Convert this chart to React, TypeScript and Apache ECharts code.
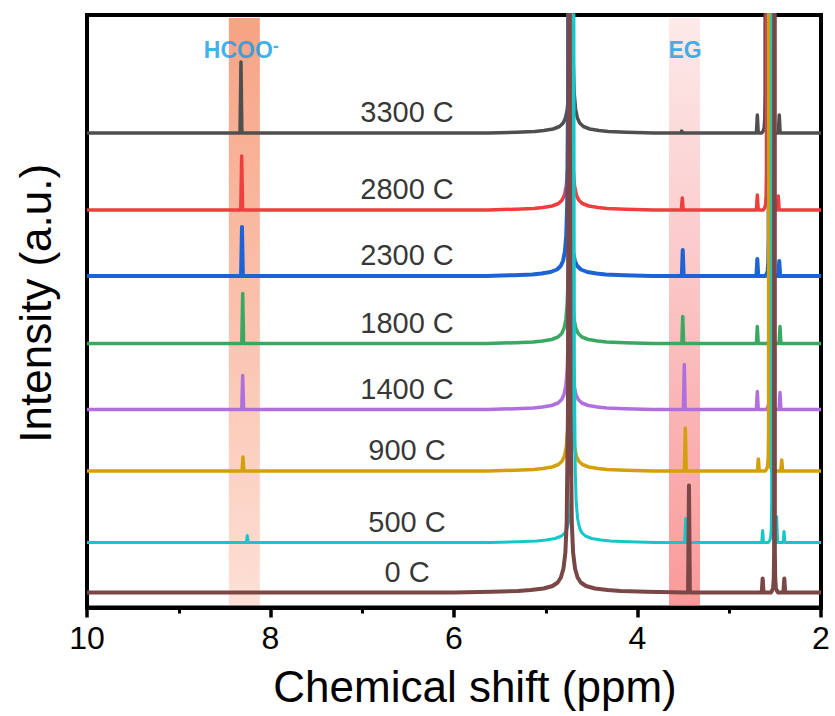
import React, { useEffect, useRef } from 'react';
import * as echarts from 'echarts';

// Stacked 1H NMR spectra, top trace first
const seriesNames = ['3300 C', '2800 C', '2300 C', '1800 C', '1400 C', '900 C', '500 C', '0 C'];
const seriesColors = ['#4f4f4f', '#ef3e3e', '#1d63d6', '#3ba862', '#b06fdf', '#d3a00c', '#16c6c8', '#7a4646'];
const lineWidths = [3.5, 3.5, 4, 3.5, 3.5, 3.5, 3, 4];
// vertical offset of each trace (a.u.)
const baselines = [474.5, 397.5, 331.5, 264, 198, 136.5, 65, 15];

// formate (HCOO-) singlet
const hcooShift = [8.322, 8.314, 8.311, 8.303, 8.303, 8.3, 8.253, 8.25];
const hcooHeight = [71, 54, 49, 50, 34, 14, 7, 0];
// ethylene glycol singlet
const egShift = [3.518, 3.512, 3.507, 3.507, 3.49, 3.479, 3.475, 3.439];
const egHeight = [2, 12, 26, 27, 45, 43, 24, 107];
// residual water
const waterShift = [4.72, 4.731, 4.747, 4.736, 4.736, 4.731, 4.698, 4.744];
const waterWidth = [1, 1, 1, 1, 1, 1, 1, 1.4];
// DMSO and 13C satellites
const dmsoShift = [2.605, 2.59, 2.567, 2.545, 2.556, 2.567, 2.534, 2.507];
const satLeftShift = [2.694, 2.694, 2.694, 2.694, 2.694, 2.683, 2.636, 2.636];
const satLeftHeight = [18, 15, 17, 17, 18, 12, 12, 14];
const satRightShift = [2.455, 2.466, 2.455, 2.447, 2.447, 2.428, 2.403, 2.4];
const satRightHeight = [18, 14, 15, 17, 17, 11, 11, 14];
const extraShift = [2.483, 2.483, 2.483, 2.483, 2.483, 2.483, 2.483, 2.483];
const extraHeight = [0, 0, 0, 0, 0, 0, 26, 0];

// line shapes: [offset (ppm), height]
const spikeShape: [number, number][] = [[0.01, 0], [0, 1], [-0.01, 0]];
const waterShape: [number, number][] = [
  [0.9, 0], [0.6, 0.8], [0.4, 1.6], [0.3, 2.5], [0.2, 4], [0.13, 6.5], [0.09, 10], [0.065, 15],
  [0.045, 24], [0.03, 40], [0.02, 70], [0.01, 180], [0.004, 600], [0, 3000],
  [-0.004, 600], [-0.01, 180], [-0.02, 70], [-0.03, 40], [-0.045, 24], [-0.065, 15], [-0.09, 10],
  [-0.13, 6.5], [-0.2, 4], [-0.3, 2.5], [-0.4, 1.6], [-0.6, 0.8], [-0.9, 0],
];
const dmsoShape: [number, number][] = [
  [0.04, 0], [0.025, 2], [0.015, 5], [0.008, 14], [0.004, 40], [0, 3000],
  [-0.004, 40], [-0.008, 14], [-0.015, 5], [-0.025, 2], [-0.04, 0],
];

// highlighted regions (ppm) and label positions
const hcooBand = [8.454, 8.116];
const egBand = [3.657, 3.319];
const bandTop = 589.5;
const bandBottom = 2.5;
const traceLabelShift = 6.512;
const traceLabelLift = 21;

const xTicks = [10, 8, 6, 4, 2];

function buildTrace(i: number): [number, number][] {
  const base = baselines[i];
  const pts: [number, number][] = [[xTicks[0], base], [xTicks[xTicks.length - 1], base]];
  const add = (center: number, scale: number, shape: [number, number][], widen = 1) => {
    if (scale <= 0) return;
    shape.forEach(([d, h]) => pts.push([center + d * widen, base + h * scale]));
  };
  add(hcooShift[i], hcooHeight[i], spikeShape);
  add(waterShift[i], 1, waterShape, waterWidth[i]);
  add(egShift[i], egHeight[i], spikeShape);
  add(satLeftShift[i], satLeftHeight[i], spikeShape);
  add(dmsoShift[i], 1, dmsoShape);
  add(extraShift[i], extraHeight[i], spikeShape);
  add(satRightShift[i], satRightHeight[i], spikeShape);
  pts.sort((a, b) => b[0] - a[0]);
  return pts;
}

const FONT = '"Liberation Sans", Arial, sans-serif';
const TAG_COLOR = '#0e9de6';

export default function App() {
  const ref = useRef<HTMLDivElement>(null);
  useEffect(() => {
    if (!ref.current) return;
    const chart = echarts.init(ref.current, undefined, { renderer: 'svg' });
    const traces = seriesNames.map((name, i) => ({
      type: 'line',
      name,
      data: buildTrace(i),
      showSymbol: false,
      symbol: 'none',
      clip: true,
      z: 3,
      lineStyle: { color: seriesColors[i], width: lineWidths[i], join: 'round' },
      silent: true,
    }));
    chart.setOption({
      animation: false,
      grid: {
        left: 87, right: 14, top: 15, bottom: 108.5,
        show: true, borderColor: '#000', borderWidth: 4, backgroundColor: 'transparent',
      },
      xAxis: {
        type: 'value', min: 2, max: 10, interval: 2, inverse: true,
        name: 'Chemical shift (ppm)', nameLocation: 'middle', nameGap: 57,
        nameTextStyle: { fontSize: 44, fontFamily: FONT, color: '#000', padding: [0, 0, 0, 42] },
        axisLine: { show: true, lineStyle: { color: '#000', width: 4 } },
        axisTick: { show: true, inside: false, length: 10, lineStyle: { color: '#000', width: 3.5 } },
        minorTick: { show: true, splitNumber: 2, length: 6, lineStyle: { color: '#000', width: 3 } },
        axisLabel: { fontSize: 32, fontFamily: FONT, color: '#000', margin: 14 },
        splitLine: { show: false },
      },
      yAxis: {
        type: 'value', min: 0, max: 592.5,
        name: 'Intensity (a.u.)', nameLocation: 'middle', nameGap: 30,
        nameTextStyle: { fontSize: 44, fontFamily: FONT, color: '#000', padding: [0, 0, 0, 16] },
        axisLine: { show: false }, axisTick: { show: false }, axisLabel: { show: false },
        splitLine: { show: false },
      },
      series: [
        {
          type: 'line', data: [], z: 1, silent: true,
          markArea: {
            silent: true,
            data: [
              [
                {
                  xAxis: hcooBand[0], yAxis: bandTop,
                  itemStyle: {
                    color: new echarts.graphic.LinearGradient(0, 0, 0, 1, [
                      { offset: 0, color: '#f7a384' }, { offset: 1, color: '#fde0d6' },
                    ]),
                  },
                },
                { xAxis: hcooBand[1], yAxis: bandBottom },
              ],
              [
                {
                  xAxis: egBand[0], yAxis: bandTop,
                  itemStyle: {
                    color: new echarts.graphic.LinearGradient(0, 0, 0, 1, [
                      { offset: 0, color: '#fdeaea' }, { offset: 1, color: '#f99a9a' },
                    ]),
                  },
                },
                { xAxis: egBand[1], yAxis: bandBottom },
              ],
            ],
          },
        },
        ...traces,
        {
          type: 'scatter', z: 5, silent: true, symbolSize: 1,
          itemStyle: { color: 'rgba(0,0,0,0)' },
          data: seriesNames.map((n, i) => [traceLabelShift, baselines[i] + traceLabelLift, n]),
          label: {
            show: true, position: 'inside', color: '#000', fontSize: 29, fontFamily: FONT,
            formatter: (p: any) => p.data[2],
          },
        },
        {
          type: 'scatter', z: 5, silent: true, symbolSize: 1,
          itemStyle: { color: 'rgba(0,0,0,0)' },
          data: [[8.318, 557.5, 'hcoo'], [3.482, 557.5, 'eg']],
          label: {
            show: true, position: 'inside',
            formatter: (p: any) => (p.data[2] === 'hcoo' ? '{a|HCOO}{b|-}' : '{a|EG}'),
            rich: {
              a: { fontSize: 23, fontWeight: 'bold', fontFamily: FONT, color: TAG_COLOR, lineHeight: 26 },
              b: { fontSize: 18, fontWeight: 'bold', fontFamily: FONT, color: TAG_COLOR, lineHeight: 16, verticalAlign: 'top' },
            },
          },
        },
      ],
    });
    return () => chart.dispose();
  }, []);
  return <div ref={ref} style={{ position: 'fixed', left: 0, top: 0, width: 835, height: 716, background: '#fff' }} />;
}
